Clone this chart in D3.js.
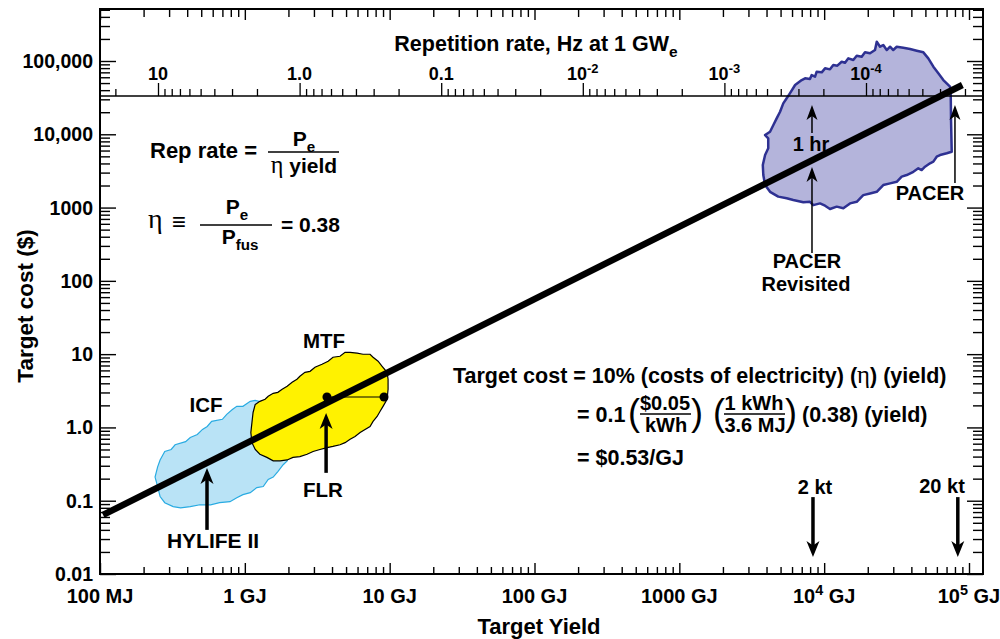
<!DOCTYPE html>
<html>
<head>
<meta charset="utf-8">
<script src="https://cdn.jsdelivr.net/npm/d3@7"></script>
<style>
  body { margin: 0; background: #fff; }
  svg text { font-family: "Liberation Sans", Arial, Helvetica, sans-serif; font-weight: bold; fill: #000; }
</style>
</head>
<body>
<svg id="chart" width="1000" height="639"></svg>
<script>
// ---- data (yield in GJ, cost in $) ----
const yieldMajors = [0.1, 1, 10, 100, 1000, 1e4, 1e5];
const yieldLabels = ["100 MJ", "1 GJ", "10 GJ", "100 GJ", "1000 GJ", "10^{4} GJ", "10^{5} GJ"];
const costMajors = [0.01, 0.1, 1, 10, 100, 1000, 1e4, 1e5];
const costLabels = ["0.01", "0.1", "1.0", "10", "100", "1000", "10,000", "100,000"];
const rateMajors = [10, 1, 0.1, 0.01, 0.001, 0.0001];
const rateLabels = ["10", "1.0", "0.1", "10^{-2}", "10^{-3}", "10^{-4}"];

// target cost line, ~$0.53/GJ
const costLine = [[0.105, 0.064], [90000, 47000]];

const icfOutline = [[1.18,2.34],[1.09,2.27],[0.97,1.94],[0.88,1.94],[0.82,1.76],[0.75,1.51],[0.70,1.29],
  [0.59,1.21],[0.55,1.03],[0.51,0.94],[0.47,0.80],[0.42,0.73],[0.39,0.64],[0.33,0.58],[0.31,0.50],
  [0.28,0.47],[0.26,0.36],[0.25,0.29],[0.24,0.21],[0.25,0.156],[0.26,0.114],[0.28,0.094],[0.32,0.083],
  [0.36,0.080],[0.42,0.083],[0.49,0.088],[0.58,0.088],[0.67,0.094],[0.79,0.097],[0.88,0.110],[0.97,0.121],
  [1.09,0.129],[1.21,0.151],[1.34,0.156],[1.45,0.195],[1.57,0.21],[1.69,0.25],[1.84,0.31],[1.96,0.35],
  [2.22,0.69],[1.49,2.07]];

const mtfOutline = [[1.18,2.06],[1.27,2.27],[1.38,2.42],[1.45,2.66],[1.57,2.92],[1.69,3.01],[1.81,3.31],
  [1.96,3.64],[2.12,4.13],[2.29,4.54],[2.40,4.99],[2.60,5.65],[2.82,5.83],[3.05,6.62],[3.41,7.28],
  [3.76,8.00],[4.06,9.07],[4.54,9.36],[4.92,10.6],[5.33,10.6],[5.96,10.3],[6.55,9.97],[7.32,9.97],
  [7.68,9.07],[8.32,8.00],[8.87,6.83],[9.60,5.65],[9.75,4.54],[9.75,3.31],[9.60,2.42],[9.00,1.94],
  [8.59,1.66],[8.19,1.41],[7.68,1.21],[7.32,1.03],[6.76,0.94],[6.25,0.85],[5.77,0.75],[5.33,0.69],
  [4.92,0.62],[4.54,0.58],[4.06,0.55],[3.70,0.53],[3.30,0.50],[2.96,0.47],[2.69,0.43],[2.40,0.40],
  [2.15,0.39],[1.96,0.36],[1.75,0.35],[1.57,0.35],[1.42,0.39],[1.27,0.43],[1.18,0.50],[1.12,0.62],
  [1.10,0.85],[1.12,1.17],[1.14,1.60]];

const pacerOutline = [[5800,36200],[6300,47000],[7000,55000],[7380,58000],[7980,56800],[8200,64300],
  [8650,61000],[8880,71400],[9620,70000],[10140,79400],[10970,76900],[11560,88100],[12330,86300],
  [13210,97700],[13930,94700],[14690,108700],[15890,103100],[16780,118000],[18160,114300],[19140,131300],
  [20730,127300],[22440,141200],[23070,183300],[24320,156600],[25590,165200],[27040,141200],[28510,156600],
  [29990,141200],[31700,156600],[35180,151700],[39170,145600],[43550,138000],[48400,131300],[52360,108700],
  [56750,83600],[61400,67900],[66500,55000],[73960,44600],[74800,34300],[75200,14840],[76000,5780],
  [70200,5500],[63100,5210],[59840,4940],[56750,4230],[53830,4020],[49700,3610],[47100,3250],[44670,3430],
  [41300,3080],[37150,2780],[34300,2640],[31700,2250],[28510,2140],[25590,2030],[23070,1640],[20730,1560],
  [18620,1480],[16780,1200],[15080,1140],[13560,977],[12210,1030],[10970,955],[10140,1060],[9360,1140],
  [8410,1080],[7980,1200],[7180,1180],[6120,1270],[5510,1340],[4820,1410],[4230,1640],[3910,2030],
  [3800,2780],[3770,3810],[3910,5210],[4110,6430],[4110,8810],[3910,9770],[4230,10840],[4460,13370],
  [4700,16500],[4960,20300],[5220,26400],[5510,31000]];

const flrDots = [[3.69, 2.60], [9.14, 2.60]];

// arrows: yield position, tail cost, tip cost
const arrows = [
  { at: 0.548, tail: 0.040, tip: 0.28, thick: true },   // HYLIFE II
  { at: 3.64,  tail: 0.24,  tip: 1.57, thick: true },   // FLR
  { at: 8240,  tail: 10400, tip: 25000, thick: false }, // 1 hr
  { at: 8240,  tail: 240,   tip: 3570, thick: false },  // PACER Revisited
  { at: 80000, tail: 2160,  tip: 25000, thick: false }, // PACER
  { at: 8370,  tail: 0.112, tip: 0.017, thick: true },  // 2 kt
  { at: 83700, tail: 0.112, tip: 0.017, thick: true }   // 20 kt
];

// ---- layout ----
const L = 100, R = 983, T = 9, B = 574, SEP = 96;
const SERIF = '"Liberation Serif","DejaVu Serif",serif';

const x = d3.scaleLog().domain([0.1, 1e5]).range([100, 969]);
const y = d3.scaleLog().domain([0.01, 1e5]).range([574, 61]);
const rate = d3.scaleLog().domain([10, 1e-4]).range([158, 866]);

const svg = d3.select('#chart');
const g = svg.append('g');

const isMajor = v => Math.abs(Math.log10(v) - Math.round(Math.log10(v))) < 1e-9;

function rich(t, str) {
  const fs = +t.attr('font-size');
  const re = /(\^|_)\{([^}]*)\}/g;
  let last = 0, shift = 0, m;
  const plain = s => {
    s.split(/(η)/).filter(p => p).forEach((p, i) => {
      const ts = t.append('tspan').attr('dy', i === 0 ? -shift : 0).text(p);
      if (p === 'η') ts.style('font-family', SERIF).style('font-weight', 'normal')
        .attr('font-size', fs * 1.15);
    });
    shift = 0;
  };
  while ((m = re.exec(str)) !== null) {
    if (m.index > last) plain(str.slice(last, m.index));
    const s = m[1] === '^' ? -0.4 * fs : 0.28 * fs;
    t.append('tspan').attr('dy', s - shift).attr('font-size', 0.72 * fs).text(m[2]);
    shift = s;
    last = re.lastIndex;
  }
  if (last < str.length) plain(str.slice(last));
  return t;
}

function label(px, py, str, fs, anchor) {
  const t = g.append('text').attr('x', px).attr('y', py)
    .attr('font-size', fs || 20).attr('text-anchor', anchor || 'start');
  return rich(t, str);
}

function hline(x1, x2, yy) {
  g.append('line').attr('x1', x1).attr('x2', x2).attr('y1', yy).attr('y2', yy)
    .attr('stroke', '#000').attr('stroke-width', 1.4);
}

// ---- blobs ----
const blob = d3.line().x(d => x(d[0])).y(d => y(d[1])).curve(d3.curveLinearClosed);

g.append('path').attr('d', blob(pacerOutline))
  .attr('fill', '#b4b4db').attr('stroke', '#2e3192').attr('stroke-width', 2.5).attr('stroke-linejoin', 'round');
g.append('path').attr('d', blob(icfOutline))
  .attr('fill', '#b9e3f6').attr('stroke', '#29abe2').attr('stroke-width', 1.2);
g.append('path').attr('d', blob(mtfOutline))
  .attr('fill', '#fff200').attr('stroke', '#000').attr('stroke-width', 1.2);

// ---- secondary (rep rate) axis on separator ----
const rateExt = rate.copy().domain([rate.invert(L), rate.invert(R)]);
const rateTicks = rateExt.ticks(20);
const sepG = g.append('g').attr('transform', `translate(0,${SEP})`);
sepG.append('line').attr('x1', L).attr('x2', R).attr('stroke', '#000').attr('stroke-width', 1.3);
sepG.append('g').call(d3.axisTop(rate).tickValues(rateTicks.filter(v => !isMajor(v))).tickSize(7).tickFormat(''));
sepG.append('g').call(d3.axisTop(rate).tickValues(rateMajors).tickSize(13).tickFormat(''));
sepG.selectAll('.domain').remove();
sepG.selectAll('.tick line').attr('stroke-width', 1.3);
rateMajors.forEach((v, i) => label(rate(v), 80, rateLabels[i], 18, 'middle'));
label(536, 51, 'Repetition rate, Hz at 1 GW_{e}', 21.5, 'middle');

// ---- main line ----
g.append('path').attr('d', d3.line().x(d => x(d[0])).y(d => y(d[1]))(costLine))
  .attr('stroke', '#000').attr('stroke-width', 6.5).attr('fill', 'none');

// FLR marker pair
g.append('line').attr('x1', x(flrDots[0][0])).attr('x2', x(flrDots[1][0]))
  .attr('y1', y(flrDots[0][1])).attr('y2', y(flrDots[1][1])).attr('stroke', '#000').attr('stroke-width', 1.2);
g.selectAll('.flr').data(flrDots).enter().append('circle')
  .attr('cx', d => x(d[0])).attr('cy', d => y(d[1])).attr('r', 4.5).attr('fill', '#000');

// ---- frame axes ----
const xExt = x.copy().domain([x.invert(L) * 0.999, x.invert(R)]);
const xTicks = xExt.ticks(20);
const yExt = y.copy().domain([0.00999, y.invert(T)]);
const yTicks = yExt.ticks(20);
const xMin = xTicks.filter(v => !isMajor(v));
const yMin = yTicks.filter(v => !isMajor(v));

const axes = g.append('g');
axes.append('g').attr('transform', `translate(0,${B})`)
  .call(d3.axisBottom(x).tickValues(xMin).tickSize(-7).tickFormat(''));
axes.append('g').attr('transform', `translate(0,${B})`)
  .call(d3.axisBottom(x).tickValues(yieldMajors).tickSize(-11).tickFormat(''));
axes.append('g').attr('transform', `translate(0,${T})`)
  .call(d3.axisTop(x).tickValues(xMin).tickSize(-8).tickFormat(''));
axes.append('g').attr('transform', `translate(0,${T})`)
  .call(d3.axisTop(x).tickValues(yieldMajors).tickSize(-11).tickFormat(''));
axes.append('g').attr('transform', `translate(${L},0)`)
  .call(d3.axisLeft(y).tickValues(yMin).tickSize(-10).tickFormat(''));
axes.append('g').attr('transform', `translate(${L},0)`)
  .call(d3.axisLeft(y).tickValues(costMajors).tickSize(-16).tickFormat(''));
axes.append('g').attr('transform', `translate(${R},0)`)
  .call(d3.axisRight(y).tickValues(yMin).tickSize(-10).tickFormat(''));
axes.append('g').attr('transform', `translate(${R},0)`)
  .call(d3.axisRight(y).tickValues(costMajors).tickSize(-16).tickFormat(''));
axes.selectAll('.domain').remove();
axes.selectAll('.tick line').attr('stroke-width', 1.4);

g.append('rect').attr('x', L).attr('y', T).attr('width', R - L).attr('height', B - T)
  .attr('fill', 'none').attr('stroke', '#000').attr('stroke-width', 2);

yieldMajors.forEach((v, i) => label(x(v), 603, yieldLabels[i], 20, 'middle'));
costMajors.forEach((v, i) => label(93, y(v) + 7, costLabels[i], 19.5, 'end'));

label(539, 634, 'Target Yield', 22, 'middle');
g.append('text').attr('transform', 'translate(33,306) rotate(-90)')
  .attr('font-size', 22.5).attr('text-anchor', 'middle').text('Target cost ($)');

// ---- arrows ----
arrows.forEach(a => {
  const px = x(a.at), y1 = y(a.tail), y2 = y(a.tip);
  const dir = Math.sign(y2 - y1);
  const hl = a.thick ? 16 : 15, hw = a.thick ? 13 : 11;
  g.append('line').attr('x1', px).attr('x2', px).attr('y1', y1).attr('y2', y2 - dir * hl * 0.6)
    .attr('stroke', '#000').attr('stroke-width', a.thick ? 3.5 : 1.5);
  g.append('path')
    .attr('d', `M${px},${y2}L${px - hw / 2},${y2 - dir * hl}L${px},${y2 - dir * hl * 0.72}L${px + hw / 2},${y2 - dir * hl}Z`)
    .attr('fill', '#000');
});

// ---- labels ----
label(206, 412, 'ICF', 20.5, 'middle');
label(324, 348, 'MTF', 20.5, 'middle');
label(323, 497, 'FLR', 20.5, 'middle');
label(213, 548, 'HYLIFE II', 21, 'middle');
label(811, 151, '1 hr', 20, 'middle');
label(807, 268, 'PACER', 20, 'middle');
label(806, 291, 'Revisited', 20, 'middle');
label(930, 200, 'PACER', 20, 'middle');
label(815, 494, '2 kt', 20, 'middle');
label(942, 493, '20 kt', 20, 'middle');

// rep rate formula
label(150, 158, 'Rep rate =', 22);
label(304, 146, 'P_{e}', 21, 'middle');
hline(268, 339, 152);
label(304, 173, 'η yield', 21, 'middle');

// efficiency definition
g.append('text').attr('x', 148).attr('y', 228).attr('font-size', 28)
  .style('font-family', SERIF).style('font-weight', 'normal').text('η');
label(172, 230, '≡', 24);
label(237, 214, 'P_{e}', 21, 'middle');
hline(200, 272, 225);
label(240, 244, 'P_{fus}', 21, 'middle');
label(281, 232, '= 0.38', 21);

// target cost derivation
label(453, 383, 'Target cost = 10% (costs of electricity) (η) (yield)', 21.5);
label(577, 422, '= 0.1', 21.5);
const paren = (px, ch) => g.append('text').attr('x', px).attr('y', 425).attr('font-size', 36)
  .style('font-weight', 'normal').attr('text-anchor', 'middle').text(ch);
paren(634, '(');
paren(697, ')');
paren(719, '(');
paren(791, ')');
label(665, 410, '$0.05', 20, 'middle');
hline(640, 691, 414);
label(666, 432, 'kWh', 20, 'middle');
label(754, 410, '1 kWh', 20, 'middle');
hline(724, 785, 414);
label(755, 432, '3.6 MJ', 20, 'middle');
label(802, 422, '(0.38) (yield)', 21.5);
label(577, 465, '= $0.53/GJ', 21.5);
</script>
</body>
</html>
